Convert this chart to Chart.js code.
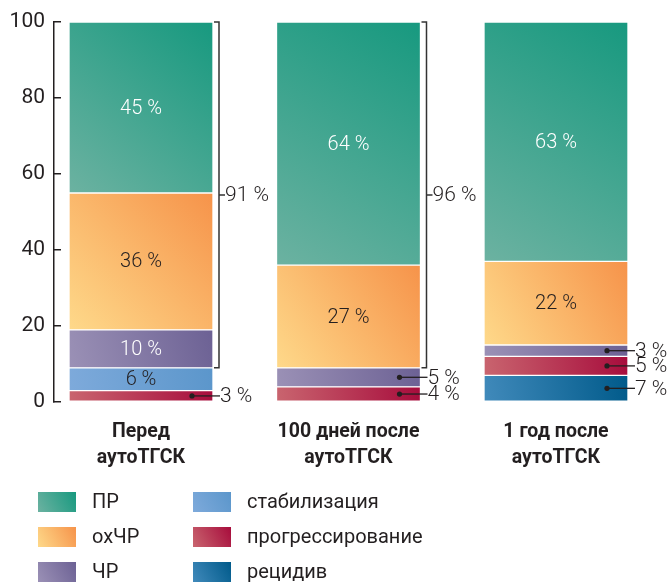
<!DOCTYPE html>
<html>
<head>
<meta charset="utf-8">
<script src="https://cdn.jsdelivr.net/npm/chart.js@4"></script>
<style>
  body { margin: 0; background: #fff; }
  canvas { display: block; }
</style>
</head>
<body>
<canvas id="chart" width="667" height="584"></canvas>
<script>
// данные
const categories = [["Перед", "аутоТГСК"], ["100 дней после", "аутоТГСК"], ["1 год после", "аутоТГСК"]];
const seriesNames = ["рецидив", "прогрессирование", "стабилизация", "ЧР", "охЧР", "ПР"];
const recidiv = [null, null, 7];
const progression = [3, 4, 5];
const stabilization = [6, null, null];
const partial = [10, 5, 3];
const veryGoodPartial = [36, 27, 22];
const complete = [45, 64, 63];
const yTicks = [0, 20, 40, 60, 80, 100];
const bracketTotals = [91, 96, null];
const bracketBottom = [9, 9, null];

const seriesValues = [recidiv, progression, stabilization, partial, veryGoodPartial, complete];

// оформление
const FONT = "Roboto, 'DejaVu Sans', sans-serif";
const DARK = "#231f20";
const gradColors = [
  ["#418abb", "#005a8a"],
  ["#c9656f", "#a70c3c"],
  ["#7eaadb", "#5b96cb"],
  ["#9b91b6", "#6c6194"],
  ["#fed98a", "#f6934a"],
  ["#6cb2a1", "#17997f"],
];
const labelInside = [false, false, true, true, true, true];
const labelColor = ["#fff", "#fff", DARK, "#fff", DARK, "#fff"];
const BAR = 144;

function makeGrad(ctx, x0, y0, x1, y1, c) {
  if (![x0, y0, x1, y1].every(Number.isFinite)) return c[1];
  const g = ctx.createLinearGradient(x0, y0, x1, y1);
  g.addColorStop(0, c[0]);
  g.addColorStop(1, c[1]);
  return g;
}

function stackBase(ds, i) {
  let s = 0;
  for (let k = 0; k < ds; k++) s += seriesValues[k][i] || 0;
  return s;
}

const datasets = seriesNames.map((name, d) => ({
  label: name,
  data: seriesValues[d],
  barThickness: BAR,
  borderColor: "#fff",
  borderWidth: 1,
  borderSkipped: false,
  backgroundColor: (c) => {
    const chart = c.chart;
    const xs = chart.scales.x, ys = chart.scales.y;
    if (c.type !== "data" || !xs || !ys) return gradColors[d][1];
    const cx = xs.getPixelForValue(c.dataIndex);
    const lo = stackBase(d, c.dataIndex);
    const hi = lo + (seriesValues[d][c.dataIndex] || 0);
    return makeGrad(chart.ctx, cx - BAR / 2, ys.getPixelForValue(lo), cx + BAR / 2, ys.getPixelForValue(hi), gradColors[d]);
  },
}));

const barLabels = {
  id: "barLabels",
  afterDatasetsDraw(chart) {
    const ctx = chart.ctx;
    ctx.save();
    chart.data.datasets.forEach((ds, d) => {
      const meta = chart.getDatasetMeta(d);
      meta.data.forEach((bar, i) => {
        const v = ds.data[i];
        if (v == null) return;
        const cy = (bar.y + bar.base) / 2;
        const text = v + " %";
        if (labelInside[d] && v >= 6) {
          ctx.font = "300 20px " + FONT;
          ctx.fillStyle = labelColor[d];
          ctx.textAlign = "center";
          ctx.textBaseline = "middle";
          ctx.fillText(text, bar.x, cy + 1);
        } else {
          const right = bar.x + BAR / 2;
          ctx.fillStyle = DARK;
          ctx.strokeStyle = DARK;
          ctx.lineWidth = 1.3;
          ctx.beginPath();
          ctx.arc(bar.x + 51, cy, 2.6, 0, Math.PI * 2);
          ctx.fill();
          ctx.beginPath();
          ctx.moveTo(bar.x + 51, cy);
          ctx.lineTo(right + 7, cy);
          ctx.stroke();
          ctx.font = "300 21px " + FONT;
          ctx.textAlign = "left";
          ctx.textBaseline = "middle";
          ctx.fillText(text, right + 7, cy + 1);
        }
      });
    });
    ctx.restore();
  },
};

const brackets = {
  id: "brackets",
  afterDraw(chart) {
    const ctx = chart.ctx;
    const xs = chart.scales.x, ys = chart.scales.y;
    ctx.save();
    bracketTotals.forEach((total, i) => {
      if (total == null) return;
      const x0 = xs.getPixelForValue(i) + BAR / 2;
      const bx = x0 + 6;
      const top = ys.getPixelForValue(100);
      const bottom = ys.getPixelForValue(bracketBottom[i]);
      const mid = (top + bottom) / 2;
      ctx.strokeStyle = "#333";
      ctx.lineWidth = 1.5;
      ctx.beginPath();
      ctx.moveTo(x0 + 1, top);
      ctx.lineTo(bx, top);
      ctx.lineTo(bx, bottom);
      ctx.lineTo(x0 + 1, bottom);
      ctx.moveTo(bx, mid);
      ctx.lineTo(bx + 6, mid);
      ctx.stroke();
      ctx.fillStyle = DARK;
      ctx.font = "300 21px " + FONT;
      ctx.textAlign = "left";
      ctx.textBaseline = "middle";
      ctx.fillText(total + " %", bx + 6, mid + 1);
    });
    ctx.restore();
  },
};

const sideLegend = {
  id: "sideLegend",
  afterDraw(chart) {
    const ctx = chart.ctx;
    const order = chart.data.datasets.map((ds, d) => d).reverse();
    ctx.save();
    order.forEach((d, k) => {
      const col = Math.floor(k / 3), row = k % 3;
      const sx = col === 0 ? 38 : 193;
      const tx = col === 0 ? 92 : 247;
      const cy = 502 + row * 35;
      ctx.fillStyle = makeGrad(ctx, sx, cy + 10, sx + 38, cy - 10, gradColors[d]);
      ctx.fillRect(sx, cy - 10, 38, 20);
      ctx.fillStyle = DARK;
      ctx.font = "20px " + FONT;
      ctx.textAlign = "left";
      ctx.textBaseline = "middle";
      ctx.fillText(chart.data.datasets[d].label, tx, cy + 1);
    });
    ctx.restore();
  },
};

new Chart(document.getElementById("chart"), {
  type: "bar",
  data: {
    labels: categories.map((c, i) => i),
    datasets: datasets,
  },
  options: {
    responsive: false,
    animation: false,
    events: [],
    layout: { padding: { top: 22, left: 0, right: 0, bottom: 0 } },
    plugins: {
      legend: { display: false },
      tooltip: { enabled: false },
    },
    scales: {
      x: {
        type: "linear",
        stacked: true,
        bounds: "data",
        offset: false,
        min: -0.4193,
        max: 2.535,
        grid: { display: false },
        border: { display: false },
        afterFit: (s) => { s.height = 182; s.paddingLeft = 0; s.paddingRight = 0; },
        afterBuildTicks: (s) => { s.ticks = categories.map((c, i) => ({ value: i })); },
        ticks: {
          autoSkip: false,
          maxRotation: 0,
          padding: 9,
          color: DARK,
          font: { family: FONT, size: 19.5, weight: "bold", lineHeight: 26 / 19.5 },
          callback: (v) => categories[v] || "",
        },
      },
      y: {
        stacked: true,
        min: 0,
        max: 100,
        afterFit: (s) => { s.width = 54; s.paddingTop = 0; s.paddingBottom = 0; },
        afterBuildTicks: (s) => { s.ticks = yTicks.map((v) => ({ value: v })); },
        grid: { display: true, drawOnChartArea: false, drawTicks: true, tickLength: -7, color: DARK, lineWidth: 1.5 },
        border: { display: true, color: DARK, width: 1.5 },
        ticks: {
          padding: 16,
          color: DARK,
          font: { family: FONT, size: 21 },
        },
      },
    },
  },
  plugins: [barLabels, brackets, sideLegend],
});
</script>
</body>
</html>
